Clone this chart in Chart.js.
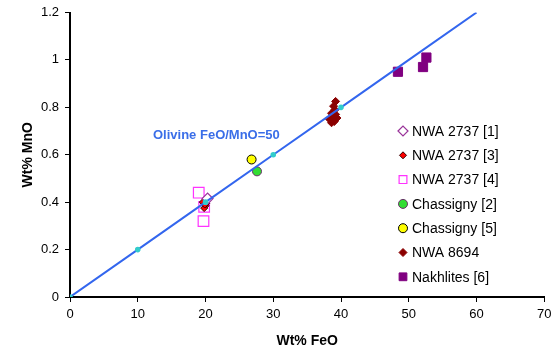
<!DOCTYPE html>
<html>
<head>
<meta charset="utf-8">
<script src="https://cdn.jsdelivr.net/npm/chart.js@4"></script>
<style>
  html, body { margin: 0; padding: 0; background: #fff; }
  #wrap { width: 553px; height: 352px; }
</style>
</head>
<body>
<div id="wrap"><canvas id="chart"></canvas></div>
<script>
// values (Wt% FeO, Wt% MnO)
const olivineLine = [[0, 0], [10, 0.2], [20, 0.4], [30, 0.6], [40, 0.8], [50, 1.0], [60, 1.2]];
const nwa2737_1 = [[20.3, 0.415]];
const nwa2737_3 = [[19.6, 0.40], [20.0, 0.385], [19.8, 0.375], [20.1, 0.395], [19.9, 0.39]];
const nwa2737_4 = [[19.0, 0.44], [19.8, 0.38], [19.7, 0.32]];
const chassigny_2 = [[27.6, 0.53]];
const chassigny_5 = [[26.8, 0.58]];
const nwa8694 = [[39.2, 0.825], [38.9, 0.805], [39.1, 0.79], [38.6, 0.775], [38.9, 0.76],
                 [38.3, 0.75], [39.4, 0.755], [38.6, 0.735], [39.0, 0.74], [39.2, 0.77]];
const nakhlites = [[48.4, 0.95], [52.1, 0.97], [52.6, 1.01]];
const xTicks = [0, 10, 20, 30, 40, 50, 60, 70];
const yTicks = [0, 0.2, 0.4, 0.6, 0.8, 1, 1.2];

const toXY = arr => arr.map(p => ({ x: p[0], y: p[1] }));

const series = [
  { label: 'NWA 2737 [1]', data: nwa2737_1, style: 'rectRot', r: 5.5, bg: '#ffffff', bc: '#993399', bw: 1.2 },
  { label: 'NWA 2737 [3]', data: nwa2737_3, style: 'rectRot', r: 3.5, bg: '#ff0000', bc: '#330000', bw: 1 },
  { label: 'NWA 2737 [4]', data: nwa2737_4, style: 'rect', r: 7.5, bg: '#ffffff', bc: '#ff33ff', bw: 1.2 },
  { label: 'Chassigny [2]', data: chassigny_2, style: 'circle', r: 4.5, bg: '#33dd33', bc: '#663366', bw: 1 },
  { label: 'Chassigny [5]', data: chassigny_5, style: 'circle', r: 4.5, bg: '#ffff00', bc: '#000000', bw: 1 },
  { label: 'NWA 8694', data: nwa8694, style: 'rectRot', r: 4, bg: '#8b0000', bc: '#8b0000', bw: 1 },
  { label: 'Nakhlites [6]', data: nakhlites, style: 'rect', r: 6.5, bg: '#800080', bc: '#800080', bw: 1 }
];

const datasets = series.map(s => ({
  label: s.label,
  data: toXY(s.data),
  pointStyle: s.style,
  pointRadius: s.r,
  backgroundColor: s.bg,
  borderColor: s.bc,
  borderWidth: s.bw,
  order: 2
}));

datasets.push({
  label: 'Olivine FeO/MnO=50',
  type: 'line',
  data: toXY(olivineLine),
  borderColor: '#3366ee',
  borderWidth: 2,
  pointRadius: [1.8, 1.8, 1.8, 1.8, 1.8, 0, 0],
  pointBackgroundColor: '#33cccc',
  pointBorderColor: '#33cccc',
  showLine: true,
  fill: false,
  order: 1
});

const legendPlugin = {
  id: 'sideLegend',
  afterDraw(chart) {
    const ctx = chart.ctx;
    ctx.save();
    series.forEach((s, i) => {
      const y = 131 + i * 24.3;
      ctx.fillStyle = s.bg;
      ctx.strokeStyle = s.bc;
      ctx.lineWidth = s.bw;
      Chart.helpers.drawPoint(ctx, {
        pointStyle: s.style, radius: s.style === 'rect' ? 5.5 : (s.r > 5 ? 5 : s.r),
        rotation: 0, borderWidth: s.bw
      }, 403, y);
      ctx.fillStyle = '#000';
      ctx.font = '14px "Liberation Sans", Arial, sans-serif';
      ctx.textBaseline = 'middle';
      ctx.fillText(s.label, 412, y + 1);
    });
    ctx.fillStyle = '#3a6ee8';
    ctx.font = 'bold 13px "Liberation Sans", Arial, sans-serif';
    ctx.textBaseline = 'middle';
    ctx.fillText('Olivine FeO/MnO=50', 153, 135);
    ctx.restore();
  }
};

new Chart(document.getElementById('chart'), {
  type: 'scatter',
  data: { datasets: datasets },
  plugins: [legendPlugin],
  options: {
    responsive: true,
    maintainAspectRatio: false,
    animation: false,
    layout: { padding: { top: 12.5, right: 6, left: 0, bottom: 0 } },
    plugins: { legend: { display: false }, tooltip: { enabled: false } },
    scales: {
      x: {
        type: 'linear', min: 0, max: 70,
        afterBuildTicks: axis => { axis.ticks = xTicks.map(v => ({ value: v })); },
        afterFit: axis => { axis.height = 55; axis.paddingRight = 0; axis.paddingLeft = 0; },
        border: { display: true, color: '#000', width: 2 },
        grid: { display: true, drawOnChartArea: false, drawTicks: true, tickLength: 5, color: '#000', lineWidth: 1 },
        ticks: { color: '#000', font: { family: '"Liberation Sans", Arial', size: 13 }, padding: 5 },
        title: { display: true, text: 'Wt% FeO', color: '#000', font: { family: '"Liberation Sans", Arial', size: 14, weight: 'bold' }, padding: { top: 2, bottom: 2 } }
      },
      y: {
        type: 'linear', min: 0, max: 1.2,
        afterBuildTicks: axis => { axis.ticks = yTicks.map(v => ({ value: v })); },
        afterFit: axis => { axis.width = 70; axis.paddingTop = 0; axis.paddingBottom = 0; },
        border: { display: true, color: '#000', width: 2 },
        grid: { display: true, drawOnChartArea: false, drawTicks: true, tickLength: 5, color: '#000', lineWidth: 1 },
        ticks: { color: '#000', font: { family: '"Liberation Sans", Arial', size: 13 }, padding: 6, callback: v => String(v) },
        title: { display: true, text: 'Wt% MnO', color: '#000', font: { family: '"Liberation Sans", Arial', size: 14, weight: 'bold' }, padding: { top: 20, bottom: 0 } }
      }
    }
  }
});
</script>
</body>
</html>
